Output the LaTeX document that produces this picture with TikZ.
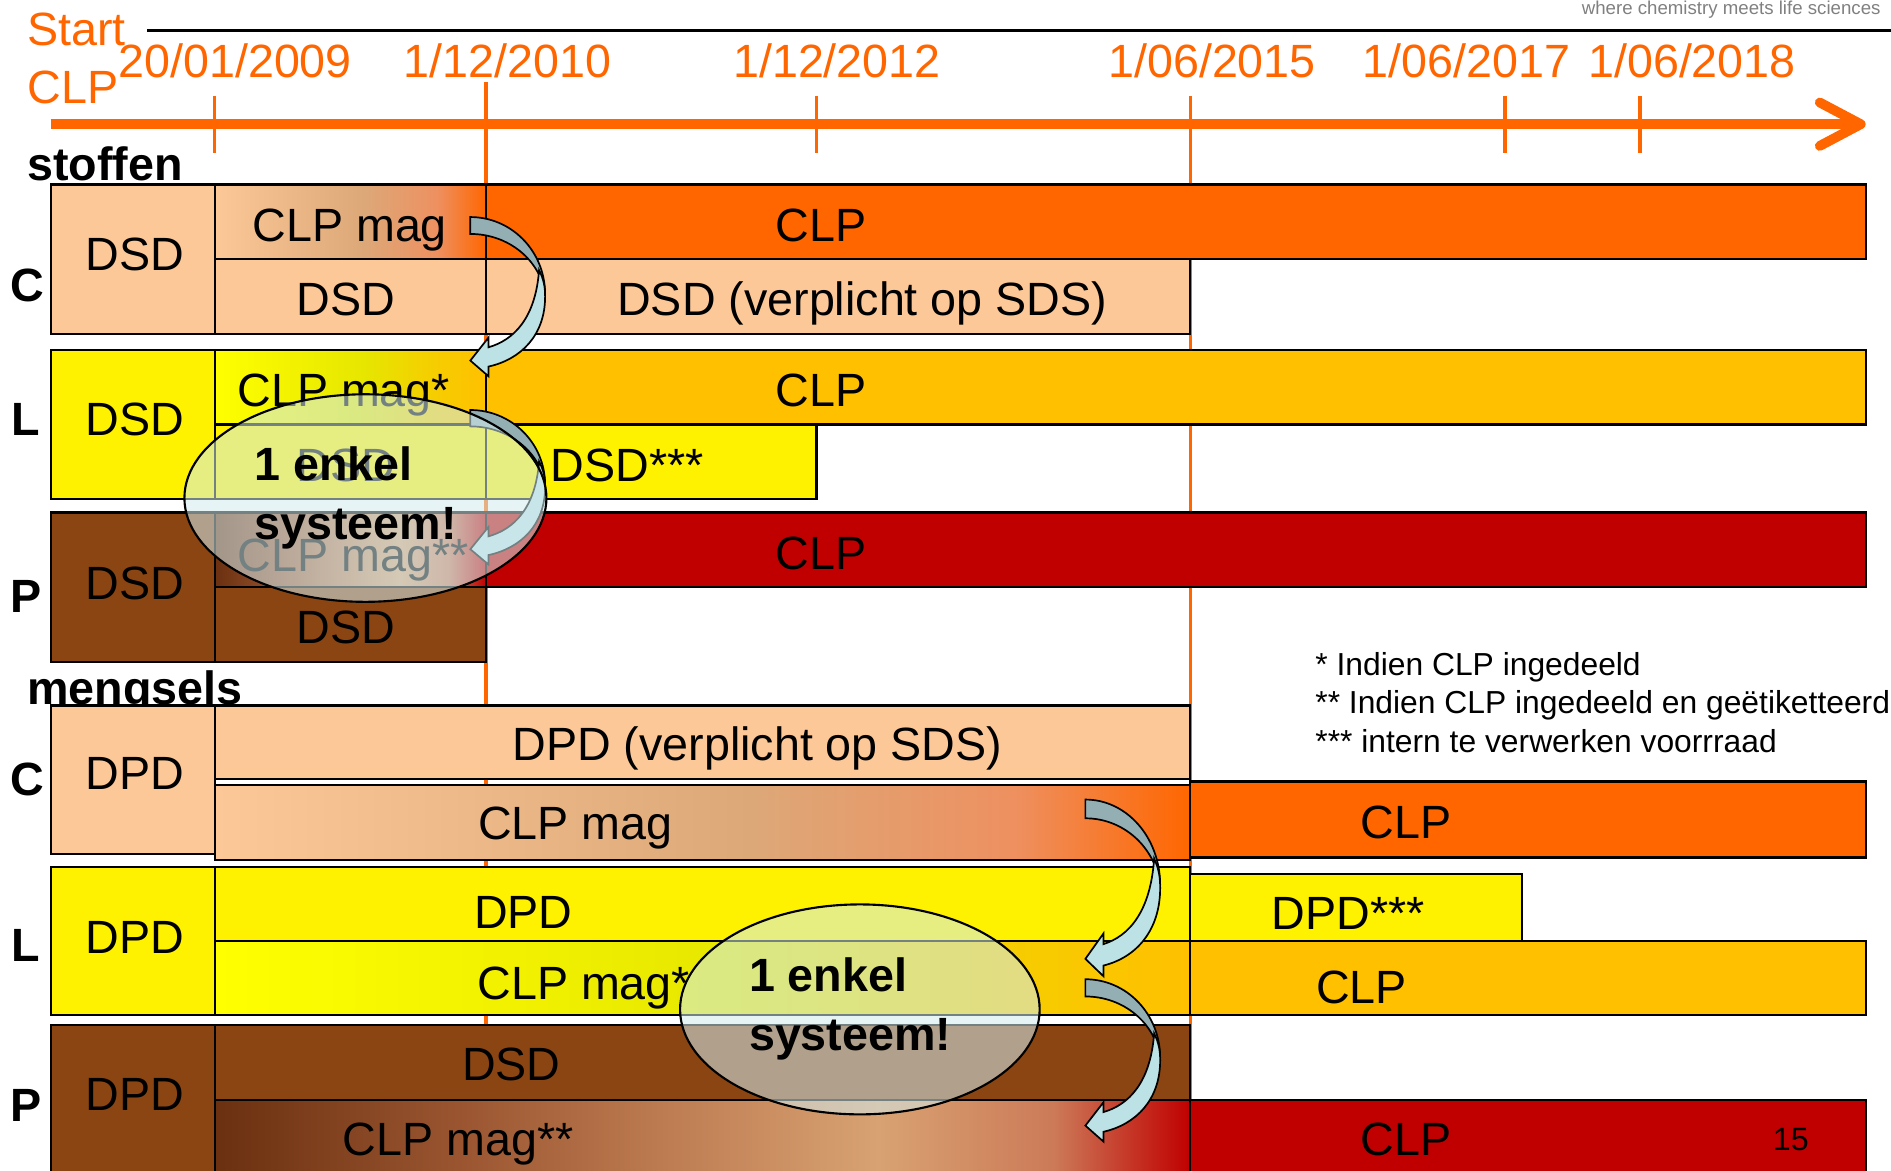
\documentclass[tikz,border=0pt]{standalone}
\usepackage{fontspec}
\setmainfont{Liberation Sans}
\usetikzlibrary{arrows.meta,shapes.geometric}

\definecolor{tlorange}{HTML}{FF6600}
\definecolor{peach}{HTML}{FCC898}
\definecolor{gold}{HTML}{FFC000}
\definecolor{brownP}{HTML}{8B4513}
\definecolor{redP}{HTML}{C00000}
\definecolor{tanC}{HTML}{DDA878}
\definecolor{oraC}{HTML}{EE9060}
\definecolor{yelL}{HTML}{E6E600}
\definecolor{ambL}{HTML}{F5CE00}
\definecolor{dbrP}{HTML}{6A3010}
\definecolor{mbrP}{HTML}{9A5530}
\definecolor{lbrP}{HTML}{BC7A50}
\definecolor{tanP}{HTML}{D8A272}
\definecolor{rosP}{HTML}{CC7A58}
\definecolor{ribdark}{HTML}{94AFB4}
\definecolor{riblight}{HTML}{BCE2E5}
\definecolor{bubblefill}{HTML}{D2EBEE}

\pgfdeclarehorizontalshading{magC}{100bp}{color(0bp)=(peach); color(25bp)=(peach); color(52.5bp)=(tanC); color(66bp)=(oraC); color(75bp)=(tlorange); color(100bp)=(tlorange)}
\pgfdeclarehorizontalshading{magL}{100bp}{color(0bp)=(yellow); color(25bp)=(yellow); color(52.5bp)=(yelL); color(65bp)=(ambL); color(75bp)=(gold); color(100bp)=(gold)}
\pgfdeclarehorizontalshading{magP}{100bp}{color(0bp)=(dbrP); color(25bp)=(dbrP); color(37.5bp)=(mbrP); color(47.5bp)=(lbrP); color(59bp)=(tanP); color(68bp)=(rosP); color(75bp)=(redP); color(100bp)=(redP)}

\begin{document}
\begin{tikzpicture}[x=0.01cm,y=-0.01cm,
  bar/.style={draw=black,line width=0.5pt},
  lbl/.style={anchor=base,inner sep=0pt,font=\fontsize{11}{13}\selectfont},
  head/.style={anchor=base west,inner sep=0pt,font=\fontsize{11}{13}\selectfont\bfseries},
  row/.style={anchor=base,inner sep=0pt,font=\fontsize{11}{13}\selectfont\bfseries},
  date/.style={lbl,text=tlorange},
  foot/.style={anchor=base west,inner sep=0pt,font=\fontsize{7.5}{9}\selectfont},
  tick/.style={draw=tlorange,line width=0.85pt},
  bubble/.style={ellipse,draw=black,line width=0.5pt,fill=bubblefill,fill opacity=0.55,inner sep=0pt},
  bubtxt/.style={align=left,inner sep=0pt,font=\fontsize{11}{13.9}\selectfont\bfseries},
  ribbon/.pic={
    \filldraw[fill=ribdark,draw=black,line width=0.4pt] (0,0) .. controls (34,0) and (62,28) .. (62,64) .. controls (58,36) and (32,14) .. (0,14) -- cycle;
    \filldraw[fill=riblight,draw=black,line width=0.4pt] (57,44) .. controls (61,52) and (62,58) .. (62,66) .. controls (62,98) and (42,118) .. (15,124) -- (15,132) -- (0,119) -- (15,100) -- (15,108) .. controls (36,102) and (54,84) .. (57,44) -- cycle;
  }]

  \useasboundingbox (0,0) rectangle (1568,971);
  \clip (0,0) rectangle (1568,971);

  \draw[line width=0.7pt] (122,25) -- (1568,25);
  \node[anchor=base east,inner sep=0pt,text=gray,font=\fontsize{4.4}{5}\selectfont] (logo) at (1560,12) {where chemistry meets life sciences};

  \draw[tick] (403,68) -- (403,971);
  \draw[tick] (987,80) -- (987,971);
  \draw[tlorange,line width=2.3pt,-{Straight Barb[length=3.4mm,width=3.6mm,round]}] (42,103) -- (1547,103);
  \foreach \t in {178,677,1248,1360}
    \draw[tick] (\t,80) -- (\t,127);

  \node[anchor=base west,inner sep=0pt,text=tlorange,font=\fontsize{11}{13}\selectfont] (start) at (22,38) {Start};
  \node[anchor=base west,inner sep=0pt,text=tlorange,font=\fontsize{11}{13}\selectfont] (startclp) at (22,86) {CLP};
  \node[date] (d1) at (195,64) {20/01/2009};
  \node[date] (d2) at (421,64) {1/12/2010};
  \node[date] (d3) at (694,64) {1/12/2012};
  \node[date] (d4) at (1005,64) {1/06/2015};
  \node[date] (d5) at (1216,64) {1/06/2017};
  \node[date] (d6) at (1403,64) {1/06/2018};

  \node[head] (stoffen) at (22,150) {stoffen};

  \draw[bar,fill=peach] (42,153) rectangle (178,277);
  \shadedraw[bar,shading=magC] (178,153) rectangle (403,215);
  \draw[bar,fill=tlorange] (403,153) rectangle (1547,215);
  \draw[bar,fill=peach] (178,215) rectangle (403,277);
  \draw[bar,fill=peach] (403,215) rectangle (987,277);

  \draw[bar,fill=yellow] (42,290) rectangle (178,414);
  \shadedraw[bar,shading=magL] (178,290) rectangle (403,352);
  \draw[bar,fill=gold] (403,290) rectangle (1547,352);
  \draw[bar,fill=yellow] (178,352) rectangle (403,414);
  \draw[bar,fill=yellow] (403,352) rectangle (677,414);

  \draw[bar,fill=brownP] (42,425) rectangle (178,549);
  \shadedraw[bar,shading=magP] (178,425) rectangle (403,487);
  \draw[bar,fill=redP] (403,425) rectangle (1547,487);
  \draw[bar,fill=brownP] (178,487) rectangle (403,549);

  \node[row] (sc) at (23,250) {C};
  \node[row] (sl) at (21,361) {L};
  \node[row] (sp) at (22,508) {P};

  \node[lbl] (sc1) at (112,224) {DSD};
  \node[lbl] (sc2) at (290,200) {CLP mag};
  \node[lbl] (sc3) at (681,200) {CLP};
  \node[lbl] (sc4) at (287,262) {DSD};
  \node[lbl] (sc5) at (715,262) {DSD (verplicht op SDS)};

  \node[lbl] (sl1) at (112,361) {DSD};
  \node[lbl] (sl2) at (285,337) {CLP mag*};
  \node[lbl] (sl3) at (681,337) {CLP};
  \node[lbl] (sl4) at (287,399) {DSD};
  \node[lbl] (sl5) at (520,399) {DSD***};

  \node[lbl] (sp1) at (112,497) {DSD};
  \node[lbl] (sp2) at (293,474) {CLP mag**};
  \node[lbl] (sp3) at (681,472) {CLP};
  \node[lbl] (sp4) at (287,534) {DSD};

  \node[head] (mengsels) at (22,584) {mengsels};

  \draw[bar,fill=peach] (42,585) rectangle (178,708);
  \draw[bar,fill=peach] (178,585) rectangle (987,646);
  \shadedraw[bar,shading=magC] (178,651) rectangle (987,713);
  \draw[bar,fill=tlorange] (987,648) rectangle (1547,711);

  \draw[bar,fill=yellow] (42,719) rectangle (178,842);
  \draw[bar,fill=yellow] (178,719) rectangle (987,780);
  \draw[bar,fill=yellow] (987,725) rectangle (1262,780);
  \shadedraw[bar,shading=magL] (178,780) rectangle (987,842);
  \draw[bar,fill=gold] (987,780) rectangle (1547,842);

  \draw[bar,fill=brownP] (42,850) rectangle (178,990);
  \draw[bar,fill=brownP] (178,850) rectangle (987,912);
  \shadedraw[bar,shading=magP] (178,912) rectangle (987,990);
  \draw[bar,fill=redP] (987,912) rectangle (1547,990);

  \node[row] (mc) at (23,660) {C};
  \node[row] (ml) at (21,797) {L};
  \node[row] (mp) at (22,930) {P};

  \node[lbl] (mc1) at (112,655) {DPD};
  \node[lbl] (mc2) at (628,631) {DPD (verplicht op SDS)};
  \node[lbl] (mc3) at (477,696) {CLP mag};
  \node[lbl] (mc4) at (1166,695) {CLP};

  \node[lbl] (ml1) at (112,791) {DPD};
  \node[lbl] (ml2) at (434,770) {DPD};
  \node[lbl] (ml3) at (1118,771) {DPD***};
  \node[lbl] (ml4) at (484,829) {CLP mag*};
  \node[lbl] (ml5) at (1129,832) {CLP};

  \node[lbl] (mp1) at (112,921) {DPD};
  \node[lbl] (mp2) at (424,896) {DSD};
  \node[lbl] (mp3) at (380,958) {CLP mag**};
  \node[lbl] (mp4) at (1166,958) {CLP};
  \node[lbl,font=\fontsize{7.6}{9}\selectfont] (page) at (1485,954) {15};

  \node[foot] (f1) at (1090,560) {* Indien CLP ingedeeld};
  \node[foot] (f2) at (1090,592) {** Indien CLP ingedeeld en geëtiketteerd};
  \node[foot] (f3) at (1090,624) {*** intern te verwerken voorrraad};

  \pic at (390,180) {ribbon};
  \pic[yscale=0.97] at (390,340) {ribbon};
  \pic[yscale=1.11] at (900,663) {ribbon};
  \pic[yscale=1.02] at (900,812) {ribbon};

  \node[bubble,minimum width=3cm,minimum height=1.72cm] (e1) at (303,413) {};
  \node[bubtxt] (e1t) at ([xshift=-0.08cm]e1.center) {1 enkel\\systeem!};
  \node[bubble,minimum width=2.98cm,minimum height=1.74cm] (e2) at (713,837) {};
  \node[bubtxt] (e2t) at ([xshift=-0.08cm]e2.center) {1 enkel\\systeem!};

\end{tikzpicture}
\end{document}
